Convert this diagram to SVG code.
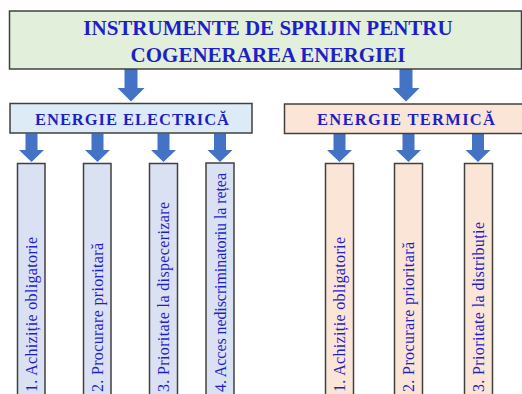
<svg xmlns="http://www.w3.org/2000/svg" xmlns:xlink="http://www.w3.org/1999/xlink" width="522" height="394" viewBox="0 0 522 394">
<style>
.box{stroke:#404040;stroke-width:1.5}
.green{fill:#E2EFDA}
.blue{fill:#DDEBF7}
.peach{fill:#FBE5D6}
.colb{fill:#D9E1F2}
.t{font-family:"Liberation Serif","Times New Roman",serif;fill:#1f1fc8}
.title{font-size:21px;font-weight:bold;text-anchor:middle}
.head{font-size:16.5px;font-weight:bold;text-anchor:middle}
.col{font-size:16px}
.arrow{fill:#4472C4}
</style>
<defs>
<path id="bigArrow" d="M-6.5,0 H6.5 V19 H13.5 L0,32.5 L-13.5,19 H-6.5 Z"/>
<path id="smallArrow" d="M-6,0 H6 V16.5 H12.5 L0,28.5 L-12.5,16.5 H-6 Z"/>
</defs>
<g id="connectors" class="arrow">
<use xlink:href="#bigArrow" x="131" y="69"/>
<use xlink:href="#bigArrow" x="406" y="69"/>
<use xlink:href="#smallArrow" x="31.5" y="133.5"/>
<use xlink:href="#smallArrow" x="97.5" y="133.5"/>
<use xlink:href="#smallArrow" x="163.5" y="133.5"/>
<use xlink:href="#smallArrow" x="220" y="133.5"/>
<use xlink:href="#smallArrow" x="339.5" y="133.5"/>
<use xlink:href="#smallArrow" x="408.5" y="133.5"/>
<use xlink:href="#smallArrow" x="478" y="133.5"/>
</g>
<g id="root">
<rect class="box green" x="9.5" y="11" width="512" height="58"/>
<text class="t title" x="268" y="35">INSTRUMENTE DE SPRIJIN PENTRU</text>
<text class="t title" x="268" y="62">COGENERAREA ENERGIEI</text>
</g>
<g id="electric">
<rect class="box blue" x="10" y="103.5" width="242" height="29.5"/>
<text class="t head" x="132" y="125" textLength="194" lengthAdjust="spacing">ENERGIE ELECTRICĂ</text>
</g>
<g id="termic">
<rect class="box peach" x="284.5" y="104" width="240" height="29.5"/>
<text class="t head" x="406" y="125" textLength="178" lengthAdjust="spacing">ENERGIE TERMICĂ</text>
</g>
<g id="e1">
<rect class="box colb" x="17.5" y="163.5" width="27.5" height="240"/>
<text class="t col" transform="translate(37,392) rotate(-90)" textLength="155" lengthAdjust="spacing">1. Achiziție obligatorie</text>
</g>
<g id="e2">
<rect class="box colb" x="83.5" y="163.5" width="27.5" height="240"/>
<text class="t col" transform="translate(103,392) rotate(-90)" textLength="149" lengthAdjust="spacing">2. Procurare prioritară</text>
</g>
<g id="e3">
<rect class="box colb" x="149.5" y="163.5" width="28" height="240"/>
<text class="t col" transform="translate(169,392) rotate(-90)" textLength="190" lengthAdjust="spacing">3. Prioritate la dispecerizare</text>
</g>
<g id="e4">
<rect class="box colb" x="206" y="163" width="28" height="240"/>
<text class="t col" transform="translate(225.5,392) rotate(-90)" textLength="219" lengthAdjust="spacing">4. Acces nediscriminatoriu la rețea</text>
</g>
<g id="t1">
<rect class="box peach" x="325.5" y="163.5" width="28" height="240"/>
<text class="t col" transform="translate(345,392) rotate(-90)" textLength="155" lengthAdjust="spacing">1. Achiziție obligatorie</text>
</g>
<g id="t2">
<rect class="box peach" x="394.5" y="163.5" width="28" height="240"/>
<text class="t col" transform="translate(414,392) rotate(-90)" textLength="150" lengthAdjust="spacing">2. Procurare prioritară</text>
</g>
<g id="t3">
<rect class="box peach" x="464.5" y="163.5" width="28" height="240"/>
<text class="t col" transform="translate(484,392) rotate(-90)" textLength="170" lengthAdjust="spacing">3. Prioritate la distribuție</text>
</g>
</svg>
